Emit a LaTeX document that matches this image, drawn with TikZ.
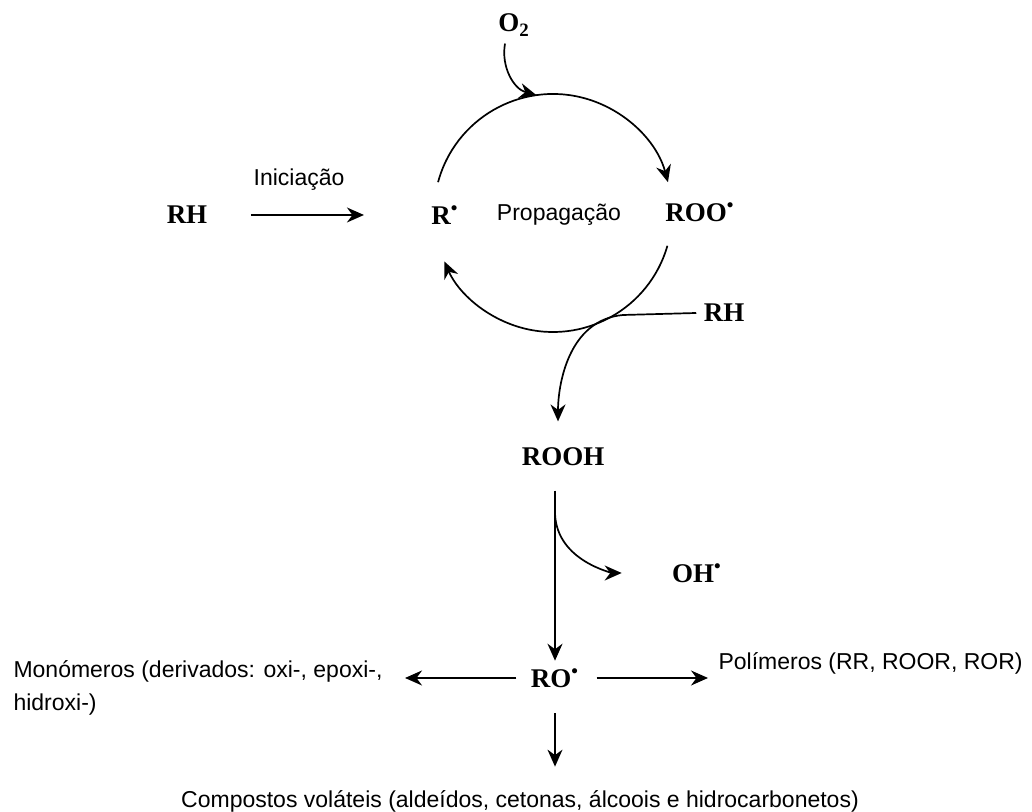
\documentclass[tikz,border=0pt]{standalone}
\usepackage{fontspec}
\setmainfont{Liberation Serif}
\setsansfont{Liberation Sans}
\usetikzlibrary{arrows.meta}

\begin{document}
\begin{tikzpicture}[x=0.5pt,y=0.5pt,line width=0.85pt,
    >={Stealth[length=8.5pt,width=7.5pt]},
    spec/.style={font=\fontsize{13.5}{16}\selectfont\bfseries},
    lbl/.style={font=\fontsize{11.5}{16.5}\selectfont\sffamily}]
        \useasboundingbox (0,0) rectangle (1032,812);
        \node[spec] (o2) at (514,787) {O\textsubscript{2}};
        \node[spec] (rh) at (187,597) {RH};
        \node[lbl] (ini) at (299,632) {Iniciação};
        \node[spec] (r) at (445,597) {R\textsuperscript{\textbullet}};
        \node[lbl] (prop) at (559,597) {Propagação};
        \node[spec] (roo) at (700,600) {ROO\textsuperscript{\textbullet}};
        \node[spec] (rh2) at (724,499) {RH};
        \node[spec] (rooh) at (563,355) {ROOH};
        \node[spec] (oh) at (697,239) {OH\textsuperscript{\textbullet}};
        \node[spec] (ro) at (555,134) {RO\textsuperscript{\textbullet}};
        \node[lbl,anchor=west,align=left] (mono) at (6,124) {Monómeros (derivados: oxi-, epoxi-,\\hidroxi-)};
        \node[lbl,anchor=west] (poli) at (711,149) {Polímeros (RR, ROOR, ROR)};
        \node[lbl] (comp) at (520,11) {Compostos voláteis (aldeídos, cetonas, álcoois e hidrocarbonetos)};
        % ciclo de propagacao
        \coordinate (cyc) at (553,599);
        \path (cyc) ++(98:119) coordinate (top);
        \draw[->] (cyc) ++(165:119) arc[start angle=165,end angle=15,radius=119];
        \draw[->] (cyc) ++(-16:119) arc[start angle=-16,end angle=-156,radius=119];
        \draw[->] ([xshift=-4.5pt]o2.south) to[out=-100,in=165] (top);
        \draw[->,shorten <=18pt,shorten >=30pt] (rh.east) -- (r.west);
        \draw[->,shorten >=9.5pt] (rh2.west) -- (623,497) to[out=185,in=90] ([xshift=-2.5pt]rooh.north);
        % decomposicao
        \draw[->,shorten <=8.5pt] (rooh.south -| ro.north) -- (ro.north);
        \draw[->,shorten >=21.5pt] (rooh.south -| ro.north) ++(0,-40) to[out=-88,in=180] (oh.west);
        \draw[->,shorten <=3.5pt,shorten >=7.5pt] (ro.west) -- (ro.west -| mono.east);
        \draw[->,shorten <=5pt,shorten >=1.5pt] (ro.east) -- (ro.east -| poli.west);
        \draw[->,shorten <=9pt,shorten >=8pt] (ro.south) -- (ro.south |- comp.north);
\end{tikzpicture}
\end{document}
